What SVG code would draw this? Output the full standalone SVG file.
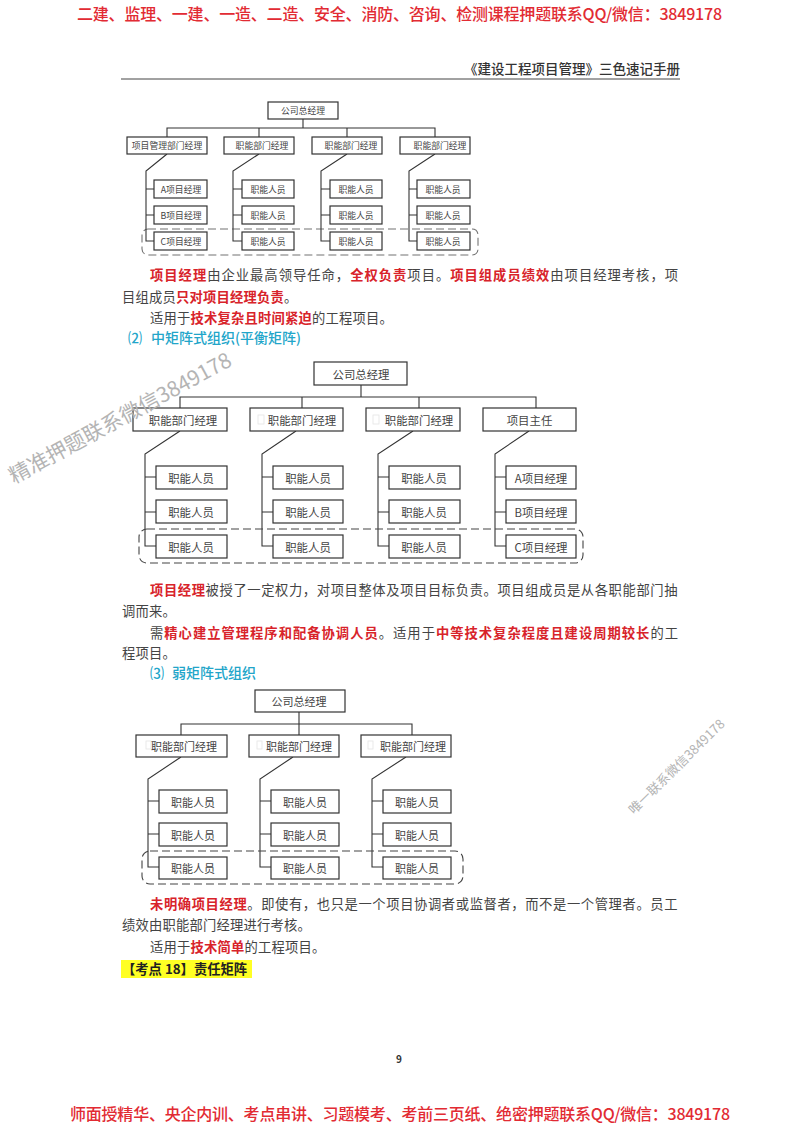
<svg xmlns="http://www.w3.org/2000/svg" width="800" height="1132" viewBox="0 0 800 1132">
<style>
text{font-family:"Noto Sans CJK SC","Noto Sans",sans-serif}
.box{fill:#fff;stroke:#333;stroke-width:1.2}
.c1 text,.c2 text,.c3 text{fill:#444;text-anchor:middle;dominant-baseline:central}
.c1 text{font-size:8.8px}
.c2 text{font-size:11.4px}
.c3 text{font-size:11px}
.link{fill:none;stroke:#333;stroke-width:1.1}
.dash{fill:none;stroke:#444;stroke-width:1.1;stroke-dasharray:8 4}
.ghost{fill:none;stroke:#e4e4e4;stroke-width:.8}
.body{font-size:13.3px;fill:#444}
.r{fill:#d8232a;font-weight:700}
.head{font-size:14px;font-weight:500;fill:#22a5c9}
.banner{font-size:16px;font-weight:500;fill:#e22b33}
.mark{fill:#b4b4b4}
</style>

<rect x="0" y="0" width="800" height="1132" fill="#fff"/>

<g id="page-frame">
<text class="banner" x="77" y="20" textLength="645">二建、监理、一建、一造、二造、安全、消防、咨询、检测课程押题联系QQ/微信：3849178</text>
<text x="680" y="73.500" text-anchor="end" font-size="13.500" font-weight="500" fill="#333">《建设工程项目管理》三色速记手册</text>
<line x1="121" y1="79" x2="680" y2="79" stroke="#444" stroke-width="1"/>
<text x="399" y="1063" text-anchor="middle" font-size="10" font-weight="700" fill="#333">9</text>
<text class="banner" x="70" y="1120" textLength="660">师面授精华、央企内训、考点串讲、习题模考、考前三页纸、绝密押题联系QQ/微信：3849178</text>
</g>

<g id="connectors">
<path class="link" d="M303 119V128M167 137V128H435V137M259 128V137M347 128V137"/>
<path class="link" d="M167 154L146 171V241H154M146 189H154M146 215H154"/>
<path class="link" d="M259 154L233 171V241H242M233 189H242M233 215H242"/>
<path class="link" d="M347 154L321 171V241H330M321 189H330M321 215H330"/>
<path class="link" d="M435 154L409 171V241H417M409 189H417M409 215H417"/>
<path class="link" d="M361 385V397M180 408V397H536V408M302 397V408M419 397V408"/>
<path class="link" d="M180 431L145 454V546H156M145 477H156M145 512H156"/>
<path class="link" d="M296 431L262 454V546H273M262 477H273M262 512H273"/>
<path class="link" d="M413 431L378 454V546H389M378 477H389M378 512H389"/>
<path class="link" d="M529 431L495 454V546H506M495 477H506M495 512H506"/>
<path class="link" d="M299 712V735M181 735V724H412V735"/>
<path class="link" d="M181 757L148 779V867H159M148 801H159M148 834H159"/>
<path class="link" d="M293 757L260 779V867H271M260 801H271M260 834H271"/>
<path class="link" d="M406 757L372 779V867H383M372 801H383M372 834H383"/>
</g>

<g id="chart1" class="c1">
<g id="c1-top"><rect class="box" x="268" y="102" width="70" height="17"/><text x="303" y="110.500">公司总经理</text></g>
<g id="c1-m1"><rect class="box" x="127" y="137" width="80" height="17"/><text x="167" y="145.500">项目管理部门经理</text></g>
<g id="c1-m2"><rect class="box" x="224" y="137" width="70" height="17"/><text x="262" y="145.500">职能部门经理</text></g>
<g id="c1-m3"><rect class="box" x="312" y="137" width="70" height="17"/><text x="351" y="145.500">职能部门经理</text></g>
<g id="c1-m4"><rect class="box" x="400" y="137" width="70" height="17"/><text x="440" y="145.500">职能部门经理</text></g>
<g id="c1-a1"><rect class="box" x="154" y="180" width="53" height="18"/><text x="181" y="189">A项目经理</text></g>
<g id="c1-a2"><rect class="box" x="154" y="206" width="53" height="18"/><text x="181" y="215">B项目经理</text></g>
<g id="c1-a3"><rect class="box" x="154" y="232" width="53" height="18"/><text x="181" y="241">C项目经理</text></g>
<g id="c1-b1"><rect class="box" x="242" y="180" width="52" height="18"/><text x="268" y="189">职能人员</text></g>
<g id="c1-b2"><rect class="box" x="242" y="206" width="52" height="18"/><text x="268" y="215">职能人员</text></g>
<g id="c1-b3"><rect class="box" x="242" y="232" width="52" height="18"/><text x="268" y="241">职能人员</text></g>
<g id="c1-c1"><rect class="box" x="330" y="180" width="52" height="18"/><text x="356" y="189">职能人员</text></g>
<g id="c1-c2"><rect class="box" x="330" y="206" width="52" height="18"/><text x="356" y="215">职能人员</text></g>
<g id="c1-c3"><rect class="box" x="330" y="232" width="52" height="18"/><text x="356" y="241">职能人员</text></g>
<g id="c1-d1"><rect class="box" x="417" y="180" width="53" height="18"/><text x="443" y="189">职能人员</text></g>
<g id="c1-d2"><rect class="box" x="417" y="206" width="53" height="18"/><text x="443" y="215">职能人员</text></g>
<g id="c1-d3"><rect class="box" x="417" y="232" width="53" height="18"/><text x="443" y="241">职能人员</text></g>
<rect class="dash" x="142" y="229" width="336" height="26" rx="6" stroke-opacity=".75"/>
</g>

<g id="text-block-1">
<text class="body" x="150" y="280" letter-spacing="1"><tspan class="r">项目经理</tspan>由企业最高领导任命，<tspan class="r">全权负责</tspan>项目。<tspan class="r">项目组成员绩效</tspan>由项目经理考核，项</text>
<text class="body" x="122" y="302" letter-spacing=".2">目组成员<tspan class="r">只对项目经理负责</tspan>。</text>
<text class="body" x="150" y="323" letter-spacing=".2">适用于<tspan class="r">技术复杂且时间紧迫</tspan>的工程项目。</text>
<text class="head" x="128" y="343">⑵ <tspan x="151">中矩阵式组织(平衡矩阵)</tspan></text>
</g>

<g id="chart2" class="c2">
<g id="c2-top"><rect class="box" x="314" y="362" width="93" height="23"/><text x="361" y="373.500">公司总经理</text></g>
<g id="c2-m1"><rect class="box" x="133" y="408" width="94" height="23"/><text x="183" y="419.500">职能部门经理</text></g>
<g id="c2-m2"><rect class="box" x="250" y="408" width="93" height="23"/><rect class="ghost" x="258" y="415" width="6" height="9"/><text x="302" y="419.500">职能部门经理</text></g>
<g id="c2-m3"><rect class="box" x="366" y="408" width="94" height="23"/><rect class="ghost" x="373" y="415" width="6" height="9"/><text x="419" y="419.500">职能部门经理</text></g>
<g id="c2-m4"><rect class="box" x="483" y="408" width="93" height="23"/><text x="529.500" y="419.500">项目主任</text></g>
<g id="c2-a1"><rect class="box" x="156" y="466" width="71" height="23"/><text x="191" y="477.500">职能人员</text></g>
<g id="c2-a2"><rect class="box" x="156" y="500" width="71" height="23"/><text x="191" y="511.500">职能人员</text></g>
<g id="c2-a3"><rect class="box" x="156" y="535" width="71" height="23"/><text x="191" y="546.500">职能人员</text></g>
<g id="c2-b1"><rect class="box" x="273" y="466" width="70" height="23"/><text x="308" y="477.500">职能人员</text></g>
<g id="c2-b2"><rect class="box" x="273" y="500" width="70" height="23"/><text x="308" y="511.500">职能人员</text></g>
<g id="c2-b3"><rect class="box" x="273" y="535" width="70" height="23"/><text x="308" y="546.500">职能人员</text></g>
<g id="c2-c1"><rect class="box" x="389" y="466" width="71" height="23"/><text x="424" y="477.500">职能人员</text></g>
<g id="c2-c2"><rect class="box" x="389" y="500" width="71" height="23"/><text x="424" y="511.500">职能人员</text></g>
<g id="c2-c3"><rect class="box" x="389" y="535" width="71" height="23"/><text x="424" y="546.500">职能人员</text></g>
<g id="c2-d1"><rect class="box" x="506" y="466" width="70" height="23"/><text x="541" y="477.500">A项目经理</text></g>
<g id="c2-d2"><rect class="box" x="506" y="500" width="70" height="23"/><text x="541" y="511.500">B项目经理</text></g>
<g id="c2-d3"><rect class="box" x="506" y="535" width="70" height="23"/><text x="541" y="546.500">C项目经理</text></g>
<rect class="dash" x="139" y="529" width="444" height="34" rx="8"/>
</g>

<g id="text-block-2">
<text class="body" x="150" y="595" letter-spacing=".6"><tspan class="r">项目经理</tspan>被授了一定权力，对项目整体及项目目标负责。项目组成员是从各职能部门抽</text>
<text class="body" x="122" y="616" letter-spacing=".2">调而来。</text>
<text class="body" x="150" y="638" letter-spacing="1">需<tspan class="r">精心建立管理程序和配备协调人员</tspan>。适用于<tspan class="r">中等技术复杂程度且建设周期较长</tspan>的工</text>
<text class="body" x="122" y="658" letter-spacing=".2">程项目。</text>
<text class="head" x="150" y="678">⑶ <tspan x="172">弱矩阵式组织</tspan></text>
</g>

<g id="chart3" class="c3">
<g id="c3-top"><rect class="box" x="255" y="690" width="90" height="22"/><text x="299" y="701">公司总经理</text></g>
<g id="c3-m1"><rect class="box" x="136" y="735" width="91" height="22"/><rect class="ghost" x="146" y="741" width="5" height="8"/><text x="184" y="746">职能部门经理</text></g>
<g id="c3-m2"><rect class="box" x="249" y="735" width="90" height="22"/><rect class="ghost" x="257" y="741" width="5" height="8"/><text x="299" y="746">职能部门经理</text></g>
<g id="c3-m3"><rect class="box" x="361" y="735" width="90" height="22"/><rect class="ghost" x="368" y="741" width="5" height="8"/><text x="413" y="746">职能部门经理</text></g>
<g id="c3-a1"><rect class="box" x="159" y="790" width="68" height="23"/><text x="193" y="801.500">职能人员</text></g>
<g id="c3-a2"><rect class="box" x="159" y="823" width="68" height="23"/><text x="193" y="834.500">职能人员</text></g>
<g id="c3-a3"><rect class="box" x="159" y="857" width="68" height="22"/><text x="193" y="868">职能人员</text></g>
<g id="c3-b1"><rect class="box" x="271" y="790" width="68" height="23"/><text x="305" y="801.500">职能人员</text></g>
<g id="c3-b2"><rect class="box" x="271" y="823" width="68" height="23"/><text x="305" y="834.500">职能人员</text></g>
<g id="c3-b3"><rect class="box" x="271" y="857" width="68" height="22"/><text x="305" y="868">职能人员</text></g>
<g id="c3-c1"><rect class="box" x="383" y="790" width="68" height="23"/><text x="417" y="801.500">职能人员</text></g>
<g id="c3-c2"><rect class="box" x="383" y="823" width="68" height="23"/><text x="417" y="834.500">职能人员</text></g>
<g id="c3-c3"><rect class="box" x="383" y="857" width="68" height="22"/><text x="417" y="868">职能人员</text></g>
<rect class="dash" x="142" y="851" width="321" height="33" rx="8"/>
</g>

<g id="text-block-3">
<text class="body" x="150" y="909" letter-spacing=".6"><tspan class="r">未明确项目经理</tspan>。即使有，也只是一个项目协调者或监督者，而不是一个管理者。员工</text>
<text class="body" x="122" y="930" letter-spacing=".2">绩效由职能部门经理进行考核。</text>
<text class="body" x="150" y="952" letter-spacing=".2">适用于<tspan class="r">技术简单</tspan>的工程项目。</text>
<rect x="121" y="960" width="131" height="18" fill="#ffff24"/>
<text x="122" y="974" font-size="13.300" font-weight="700" fill="#222">【考点 18】责任矩阵</text>
</g>

<g id="watermarks">
<text class="mark" transform="translate(14 484) rotate(-28.500)" font-size="21">精准押题联系微信3849178</text>
<text class="mark" transform="translate(634 815) rotate(-44.500)" font-size="13">唯一联系微信3849178</text>
</g>
</svg>
